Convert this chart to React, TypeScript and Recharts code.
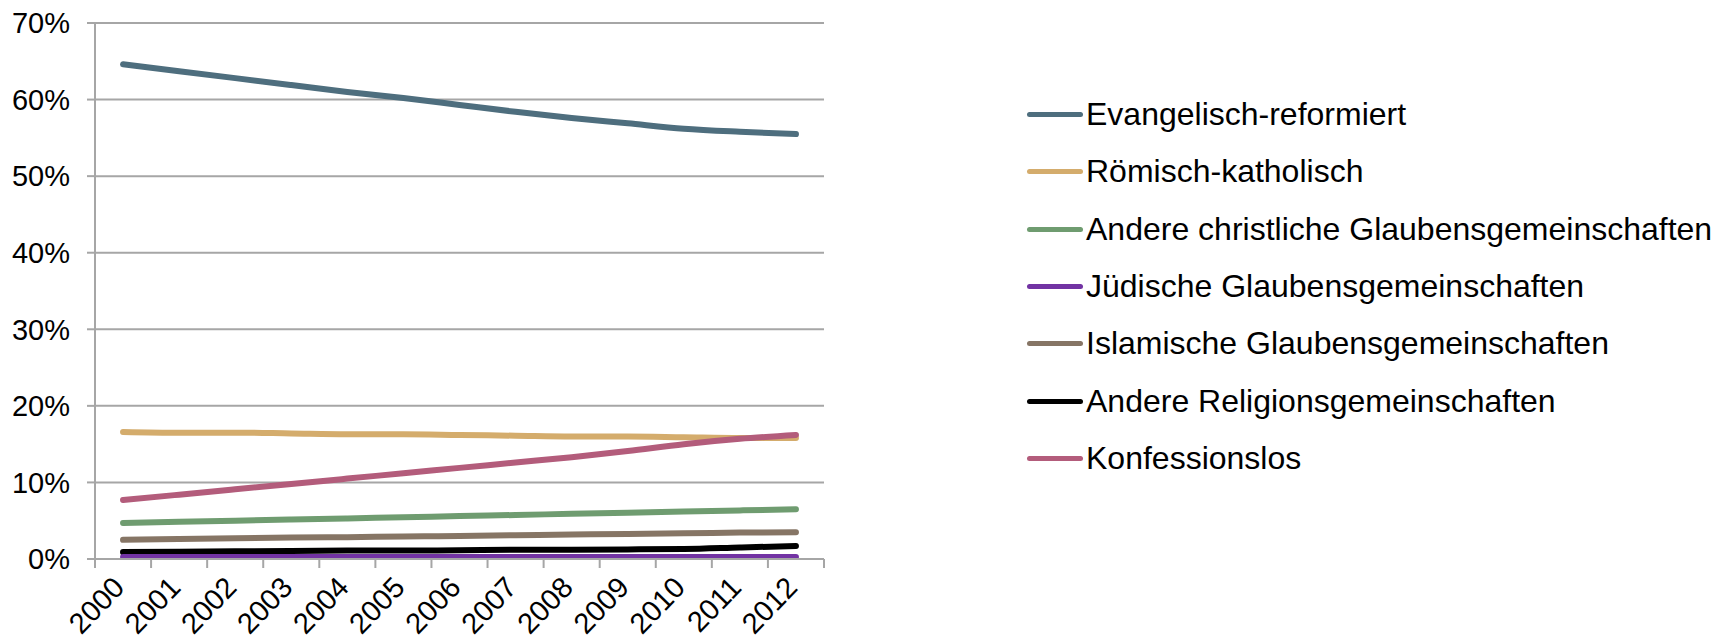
import { LineChart, Line, XAxis, YAxis, CartesianGrid } from "recharts";

const years = ["2000", "2001", "2002", "2003", "2004", "2005", "2006", "2007", "2008", "2009", "2010", "2011", "2012"];

const evangelisch = [64.6, 63.7, 62.8, 61.9, 61.0, 60.2, 59.3, 58.4, 57.6, 56.9, 56.2, 55.8, 55.5];
const katholisch = [16.6, 16.5, 16.5, 16.4, 16.3, 16.3, 16.2, 16.1, 16.0, 16.0, 15.9, 15.8, 15.8];
const andereChristlich = [4.7, 4.85, 5.0, 5.15, 5.3, 5.45, 5.6, 5.75, 5.9, 6.05, 6.2, 6.35, 6.5];
const juedisch = [0.25, 0.25, 0.25, 0.25, 0.25, 0.25, 0.25, 0.25, 0.25, 0.25, 0.25, 0.25, 0.25];
const islamisch = [2.5, 2.6, 2.7, 2.8, 2.85, 2.95, 3.0, 3.1, 3.2, 3.25, 3.35, 3.45, 3.5];
const andereReligion = [0.9, 0.95, 1.0, 1.05, 1.1, 1.1, 1.15, 1.2, 1.2, 1.25, 1.3, 1.5, 1.7];
const konfessionslos = [7.7, 8.4, 9.1, 9.8, 10.5, 11.2, 11.9, 12.6, 13.3, 14.1, 15.0, 15.7, 16.2];

const yTicks = [0, 10, 20, 30, 40, 50, 60, 70];

const series = [
  { key: "ev", name: "Evangelisch-reformiert", values: evangelisch, color: "#4E6E7E" },
  { key: "rk", name: "Römisch-katholisch", values: katholisch, color: "#D4AC6C" },
  { key: "ac", name: "Andere christliche Glaubensgemeinschaften", values: andereChristlich, color: "#6F9C70" },
  { key: "jd", name: "Jüdische Glaubensgemeinschaften", values: juedisch, color: "#7233A3" },
  { key: "is", name: "Islamische Glaubensgemeinschaften", values: islamisch, color: "#867565" },
  { key: "ar", name: "Andere Religionsgemeinschaften", values: andereReligion, color: "#000000" },
  { key: "kl", name: "Konfessionslos", values: konfessionslos, color: "#B35C7B" },
];

// draw order: black and purple on top near the baseline, like the original
const drawOrder = ["ev", "rk", "kl", "ac", "is", "ar", "jd"];

const data = years.map((year, i) => {
  const row: Record<string, number | string> = { year };
  series.forEach((s) => {
    row[s.key] = s.values[i];
  });
  return row;
});

const FONT = "'Liberation Sans', Arial, sans-serif";
const AXIS_GRAY = "#A6A6A6";
const PLOT_LEFT = 95;
const PLOT_RIGHT = 824;
const BAND = (PLOT_RIGHT - PLOT_LEFT) / years.length;

const XTick = (props: any) => {
  const { x, y, index } = props;
  const half = BAND / 2;
  return (
    <g>
      <line x1={x - half} x2={x - half} y1={y - 8} y2={y + 1} stroke={AXIS_GRAY} strokeWidth={2} />
      {index === years.length - 1 && (
        <line x1={x + half} x2={x + half} y1={y - 8} y2={y + 1} stroke={AXIS_GRAY} strokeWidth={2} />
      )}
      <text
        x={0}
        y={0}
        transform={`translate(${x + 3},${y + 22}) rotate(-46)`}
        textAnchor="end"
        fontSize={29}
        fontFamily={FONT}
        fill="#000"
      >
        {props.payload.value}
      </text>
    </g>
  );
};

const ChartLegend = () => (
  <div
    style={{
      position: "absolute",
      left: 1027,
      top: 86,
      fontFamily: FONT,
      fontSize: 32,
      color: "#000",
    }}
  >
    {series.map((s) => (
      <div key={s.key} style={{ display: "flex", alignItems: "center", height: 57.3 }}>
        <div style={{ width: 56, height: 5, borderRadius: 3, background: s.color, marginRight: 3 }} />
        <span style={{ whiteSpace: "nowrap" }}>{s.name}</span>
      </div>
    ))}
  </div>
);

export default function App() {
  return (
    <div style={{ position: "absolute", left: 0, top: 0, width: 1722, height: 642, background: "#fff" }}>
      <LineChart
        width={1722}
        height={642}
        data={data}
        margin={{ top: 23, right: 1722 - PLOT_RIGHT, bottom: 0, left: 0 }}
      >
        <CartesianGrid vertical={false} stroke={AXIS_GRAY} strokeWidth={2} />
        <XAxis
          dataKey="year"
          height={83}
          interval={0}
          padding={{ left: BAND / 2, right: BAND / 2 }}
          axisLine={{ stroke: AXIS_GRAY, strokeWidth: 2 }}
          tickLine={false}
          tick={<XTick />}
        />
        <YAxis
          width={PLOT_LEFT}
          domain={[0, 70]}
          ticks={yTicks}
          interval={0}
          tickFormatter={(v: number) => `${v}%`}
          axisLine={{ stroke: AXIS_GRAY, strokeWidth: 2 }}
          tickLine={{ stroke: AXIS_GRAY, strokeWidth: 2 }}
          tickSize={8}
          tickMargin={17}
          tick={{ fontSize: 29, fontFamily: FONT, fill: "#000" }}
        />
        {drawOrder.map((k) => {
          const s = series.find((x) => x.key === k)!;
          return (
            <Line
              key={s.key}
              dataKey={s.key}
              name={s.name}
              type="monotone"
              stroke={s.color}
              strokeWidth={6}
              strokeLinecap="round"
              dot={false}
              activeDot={false}
              isAnimationActive={false}
            />
          );
        })}
      </LineChart>
      <ChartLegend />
    </div>
  );
}
